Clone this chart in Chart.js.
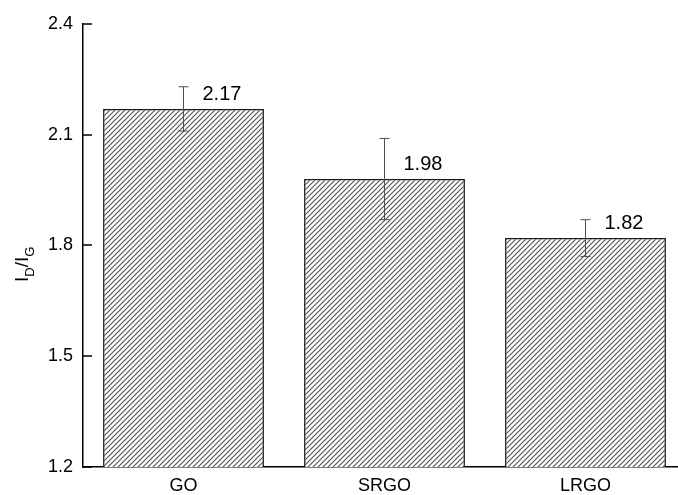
<!DOCTYPE html>
<html>
<head>
<meta charset="utf-8">
<title>ID/IG</title>
<script src="https://cdn.jsdelivr.net/npm/chart.js@4"></script>
<style>
  html, body { margin: 0; padding: 0; background: #fff; overflow: hidden; }
  canvas { display: block; }
</style>
</head>
<body>
<canvas id="myChart" width="700" height="495"></canvas>
<script>
// data
var labels = ["GO", "SRGO", "LRGO"];
var values = [2.17, 1.98, 1.82];
var errors = [0.06, 0.11, 0.05];
var yTicks = [1.2, 1.5, 1.8, 2.1, 2.4];

var FONT = "'Liberation Sans', Arial, sans-serif";

// diagonal hatch fill for the bars
function makeHatch() {
    var s = 5;
    var c = document.createElement("canvas");
    c.width = s;
    c.height = s;
    var g = c.getContext("2d");
    g.fillStyle = "#fff";
    g.fillRect(0, 0, s, s);
    g.strokeStyle = "#505050";
    g.lineWidth = 1.1;
    g.beginPath();
    g.moveTo(-1, s + 1); g.lineTo(s + 1, -1);
    g.moveTo(-1, 1); g.lineTo(1, -1);
    g.moveTo(s - 1, s + 1); g.lineTo(s + 1, s - 1);
    g.stroke();
    return g.createPattern(c, "repeat");
}

// error bars + value labels
var barExtras = {
    id: "barExtras",
    afterDatasetsDraw: function(chart) {
        var ctx = chart.ctx;
        var y = chart.scales.y;
        var meta = chart.getDatasetMeta(0);
        ctx.save();
        for (var i = 0; i < values.length; i++) {
            var x = meta.data[i].x;
            var top = y.getPixelForValue(values[i] + errors[i]);
            var bot = y.getPixelForValue(values[i] - errors[i]);
            ctx.strokeStyle = "#505050";
            ctx.lineWidth = 1;
            ctx.beginPath();
            ctx.moveTo(x, top); ctx.lineTo(x, bot);
            ctx.moveTo(x - 5, top); ctx.lineTo(x + 5, top);
            ctx.moveTo(x - 5, bot); ctx.lineTo(x + 5, bot);
            ctx.stroke();

            ctx.fillStyle = "#000";
            ctx.font = "20px " + FONT;
            ctx.textAlign = "left";
            ctx.textBaseline = "alphabetic";
            ctx.fillText(values[i].toFixed(2), x + 19, y.getPixelForValue(values[i]) - 9);
        }
        ctx.restore();
    }
};

// inward ticks on the y axis
var inTicks = {
    id: "inTicks",
    afterDraw: function(chart) {
        var ctx = chart.ctx;
        var y = chart.scales.y;
        var left = chart.chartArea.left;
        ctx.save();
        ctx.strokeStyle = "#000";
        ctx.lineWidth = 1.5;
        ctx.beginPath();
        for (var i = 0; i < yTicks.length; i++) {
            var py = Math.round(y.getPixelForValue(yTicks[i]));
            ctx.moveTo(left, py);
            ctx.lineTo(left + 9, py);
        }
        ctx.stroke();
        ctx.restore();
    }
};

// y title I_D/I_G with subscripts
var yTitle = {
    id: "yTitle",
    afterDraw: function(chart) {
        var ctx = chart.ctx;
        var parts = [["I", 19, 0], ["D", 13, 6], ["/", 19, 0], ["I", 19, 0], ["G", 13, 6]];
        ctx.save();
        ctx.translate(28, 282);
        ctx.rotate(-Math.PI / 2);
        ctx.fillStyle = "#000";
        ctx.textAlign = "left";
        ctx.textBaseline = "alphabetic";
        var pos = 0;
        for (var i = 0; i < parts.length; i++) {
            ctx.font = parts[i][1] + "px " + FONT;
            ctx.fillText(parts[i][0], pos, parts[i][2]);
            pos += ctx.measureText(parts[i][0]).width;
        }
        ctx.restore();
    }
};

var ctx = document.getElementById("myChart");
var myChart = new Chart(ctx, {
    type: "bar",
    data: {
        labels: labels,
        datasets: [{
            data: values,
            backgroundColor: makeHatch(),
            borderColor: "#1a1a1a",
            borderWidth: 1.5,
            categoryPercentage: 1.0,
            barPercentage: 0.8
        }]
    },
    options: {
        responsive: false,
        animation: false,
        devicePixelRatio: 1,
        layout: {
            autoPadding: false,
            padding: { top: 24, left: 0, right: 14, bottom: 0 }
        },
        plugins: {
            legend: { display: false },
            tooltip: { enabled: false }
        },
        scales: {
            x: {
                grid: { display: true, drawOnChartArea: false, drawTicks: false },
                border: { display: true, color: "#000", width: 1.5 },
                ticks: { color: "#000", padding: 8, font: { family: FONT, size: 18 } },
                afterFit: function(scale) { scale.height = 28; }
            },
            y: {
                min: 1.2,
                max: 2.4,
                grid: { display: true, drawOnChartArea: false, drawTicks: false },
                border: { display: true, color: "#000", width: 1.5 },
                afterBuildTicks: function(scale) {
                    scale.ticks = yTicks.map(function(v) { return { value: v }; });
                },
                ticks: {
                    color: "#000",
                    padding: 10,
                    font: { family: FONT, size: 18 },
                    callback: function(v) { return Number(v).toFixed(1); }
                },
                afterFit: function(scale) { scale.width = 83; }
            }
        }
    },
    plugins: [barExtras, inTicks, yTitle]
});
</script>
</body>
</html>
